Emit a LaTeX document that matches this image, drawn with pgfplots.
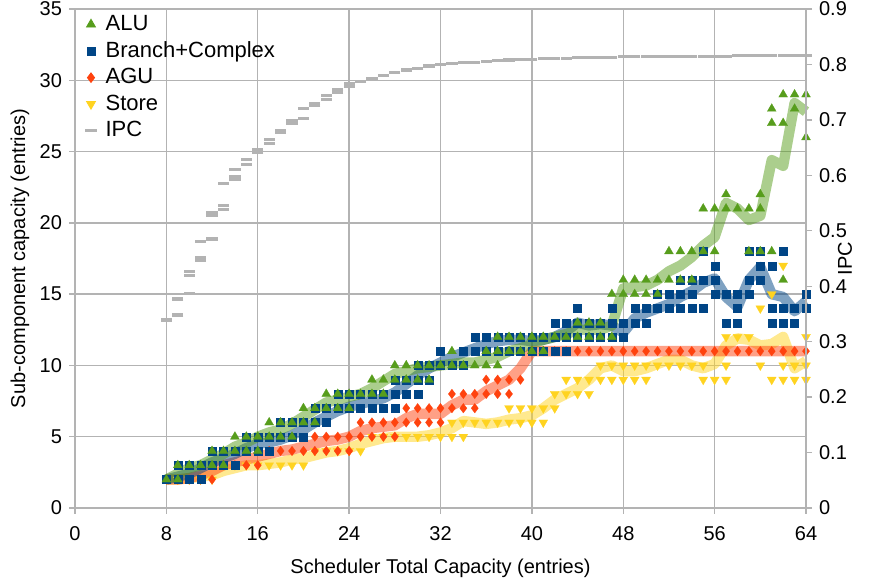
\documentclass[border=0pt]{standalone}
\usepackage{pgfplots}
\pgfplotsset{compat=1.18}
\usepackage{pgfplotstable}
\usepackage{fontspec}
\setmainfont{Liberation Sans}
\definecolor{alu}{HTML}{579D1C}
\definecolor{br}{HTML}{004586}
\definecolor{agu}{HTML}{FF420E}
\definecolor{st}{HTML}{FFD320}
\definecolor{ipc}{HTML}{B3B3B3}
\definecolor{gridc}{HTML}{B3B3B3}

\pgfplotstableread{
x y
8 2
9 2
9 3
10 3
11 3
12 3
12 4
13 3
13 4
14 4
14 5
15 4
15 5
16 4
16 5
17 5
17 6
18 5
18 6
19 5
19 6
20 6
20 7
21 6
21 7
22 7
22 8
23 7
23 8
24 7
24 8
25 8
26 8
26 9
27 8
27 9
28 9
28 10
29 9
29 10
30 9
30 10
31 9
31 10
32 10
33 10
33 11
34 10
35 10
36 10
36 11
37 10
37 11
37 12
38 11
38 12
39 11
39 12
40 11
40 12
41 11
41 12
42 12
43 12
44 12
44 13
45 12
45 13
46 12
46 13
47 12
47 15
48 15
48 16
49 15
49 16
50 15
50 16
51 15
51 16
52 16
52 18
53 16
53 18
54 16
54 18
55 18
55 21
56 18
56 21
57 21
57 22
58 21
59 18
59 21
60 18
60 21
60 22
61 18
61 27
61 28
62 16
62 27
62 29
63 28
63 29
64 26
64 29
}\aluPts

\pgfplotstableread{
x y
8 2
9 2
9 3
10 2
10 3
11 2
11 3
12 3
12 4
13 3
13 4
14 3
14 4
15 4
15 5
16 4
16 5
17 4
17 5
18 5
18 6
19 5
19 6
20 5
20 6
21 6
21 7
22 6
22 7
23 7
23 8
24 7
24 8
25 7
25 8
26 7
26 8
27 7
27 8
28 7
28 8
28 9
29 8
29 9
30 8
30 9
30 10
31 9
31 10
32 10
32 11
33 10
34 10
34 11
35 11
35 12
36 11
36 12
37 11
37 12
38 11
38 12
39 11
39 12
40 11
40 12
41 11
41 12
42 11
42 12
42 13
43 11
43 12
43 13
44 12
44 13
44 14
45 12
45 13
46 12
46 13
47 12
47 13
47 14
48 12
48 13
49 13
49 14
50 13
50 14
51 14
51 15
52 14
52 15
53 14
53 15
53 16
54 14
54 15
54 16
55 14
55 16
55 18
56 15
56 16
56 17
57 13
57 15
58 13
58 14
58 15
59 15
59 16
59 18
60 16
60 17
60 18
61 13
61 14
61 17
62 13
62 14
62 18
63 13
63 14
64 14
64 15
}\brPts

\pgfplotstableread{
x y
8 2
9 2
10 2
11 2
12 2
13 3
14 3
15 3
16 3
17 4
18 4
19 4
20 4
21 4
21 5
22 4
22 5
23 4
23 5
24 4
24 5
25 5
25 6
26 5
26 6
27 5
27 6
28 5
28 6
29 6
29 7
30 6
30 7
31 6
31 7
32 6
32 7
33 7
33 8
34 7
34 8
35 7
35 8
36 8
36 9
37 8
37 9
38 8
38 9
39 9
40 11
41 11
42 11
43 11
44 11
45 11
46 11
47 11
48 11
49 11
50 11
51 11
52 11
53 11
54 11
55 11
56 11
57 11
58 11
59 11
60 11
61 11
62 11
63 11
64 11
}\aguPts

\pgfplotstableread{
x y
8 2
9 2
10 2
11 2
12 2
13 3
14 3
15 3
16 3
17 3
18 3
19 3
20 3
21 4
22 4
23 4
24 4
25 4
26 5
27 5
28 5
29 5
30 5
31 5
32 5
33 5
33 6
34 5
34 6
35 6
36 6
37 6
38 6
38 7
39 6
39 7
40 6
40 7
41 6
41 7
42 7
42 8
43 8
43 9
44 8
44 9
45 8
45 9
46 9
46 10
47 9
47 10
48 9
48 10
49 9
49 10
50 9
50 10
51 10
52 10
53 10
54 10
55 9
55 10
56 9
57 9
57 10
57 12
58 12
59 12
60 10
60 14
61 9
61 15
62 9
62 10
62 17
63 9
63 10
64 9
64 10
64 12
}\stPts

\pgfplotstableread{
x a b g s
8 2.0 2.0 2.0 2.0
9 2.4 2.2 2.0 2.0
10 2.8 2.4 2.1 2.1
11 3.0 2.8 2.3 2.2
12 3.4 3.2 2.6 2.3
13 3.8 3.5 3.0 2.6
14 4.3 3.8 3.2 2.8
15 4.6 4.2 3.4 3.0
16 5.0 4.5 3.6 3.0
17 5.3 4.6 3.8 3.1
18 5.5 4.8 4.0 3.2
19 5.9 5.1 4.1 3.4
20 6.4 5.5 4.3 3.5
21 6.9 6.0 4.5 3.7
22 7.4 6.4 4.7 3.9
23 7.6 6.8 4.8 4.0
24 7.8 7.1 5.0 4.2
25 8.0 7.3 5.4 4.5
26 8.4 7.5 5.6 4.7
27 8.9 7.7 5.7 4.9
28 9.4 8.1 5.8 5.0
29 9.6 8.7 6.3 5.0
30 9.8 9.3 6.6 5.0
31 9.9 9.8 6.6 5.1
32 10.0 10.2 6.6 5.3
33 10.1 10.6 7.2 5.6
34 10.2 10.9 7.6 6.1
35 10.2 11.2 7.6 6.0
36 10.4 11.5 8.2 5.9
37 10.6 11.7 8.6 6.0
38 11.0 11.8 9.0 6.2
39 11.2 11.8 9.8 6.3
40 11.5 11.7 11.0 6.5
41 11.8 11.8 11.0 7.0
42 12.0 12.0 11.0 7.6
43 12.2 12.4 11.0 8.0
44 12.5 13.0 11.0 8.4
45 12.5 12.8 11.0 9.0
46 12.5 12.9 11.0 9.8
47 12.8 12.8 11.0 10.0
48 15.4 12.3 11.0 9.6
49 15.5 13.3 11.0 9.6
50 15.6 13.7 11.0 9.8
51 16.0 14.0 11.0 10.1
52 16.6 14.3 11.0 10.4
53 17.0 14.8 11.0 10.4
54 17.6 15.2 11.0 10.0
55 18.4 15.8 11.0 9.8
56 19.0 16.1 11.0 10.1
57 21.4 14.8 11.0 11.4
58 21.0 14.1 11.0 11.9
59 20.2 16.0 11.0 11.8
60 20.5 16.9 11.0 11.4
61 24.4 15.0 11.0 11.5
62 24.0 14.8 11.0 12.0
63 28.4 13.8 11.0 9.8
64 27.8 14.5 11.0 10.3
}\trend

\pgfplotstableread{
x y
8 0.339
9 0.348
9 0.377
10 0.387
10 0.420
10 0.426
11 0.447
11 0.452
11 0.480
12 0.485
12 0.527
12 0.533
13 0.539
13 0.545
13 0.585
14 0.593
14 0.598
14 0.611
15 0.620
15 0.629
16 0.642
16 0.646
17 0.657
17 0.664
18 0.677
18 0.681
19 0.694
19 0.698
20 0.703
20 0.720
21 0.727
21 0.730
22 0.737
22 0.744
23 0.749
23 0.755
24 0.761
24 0.765
25 0.769
26 0.774
27 0.780
28 0.785
29 0.790
30 0.793
31 0.797
32 0.800
33 0.802
34 0.803
35 0.804
36 0.806
37 0.807
38 0.808
39 0.809
40 0.809
41 0.810
42 0.811
43 0.811
44 0.812
45 0.812
46 0.813
47 0.813
48 0.814
49 0.814
50 0.814
51 0.814
52 0.815
53 0.815
54 0.815
55 0.815
56 0.815
57 0.815
58 0.816
59 0.816
60 0.816
61 0.816
62 0.816
63 0.816
64 0.816
}\ipcPts

\begin{document}
\begin{tikzpicture}
\pgfplotsset{
  common/.style={
    scale only axis, width=365.5pt, height=249.5pt,
    xmin=0, xmax=64,
    axis line style={gridc, line width=0.7pt},
    tick style={gridc, line width=0.7pt},
    tick align=outside, major tick length=3pt,
    tick label style={font=\fontsize{10pt}{12pt}\selectfont, text=black},
    label style={font=\fontsize{10pt}{12pt}\selectfont},
    /pgf/number format/assume math mode=true,
    clip=false,
  }
}
\begin{axis}[common,
  ymin=0, ymax=35,
  xtick={0,8,...,64}, ytick={0,5,...,35},
  xtick pos=bottom, ytick pos=left,
  xticklabel style={yshift=-2.5pt},
  grid=major, major grid style={gridc, line width=0.7pt},
  xlabel={Scheduler Total Capacity (entries)},
  ylabel={Sub-component capacity (entries)},
  xlabel style={at={(axis description cs:0.5,0)}, anchor=center, yshift=-30pt},
  ylabel style={at={(axis description cs:0,0.5)}, anchor=center, rotate=0, yshift=27.5pt},
  legend style={at={(axis description cs:0,1)}, anchor=north west, xshift=2pt, draw=none, fill=none,
    font=\fontsize{11pt}{12pt}\selectfont, inner xsep=3pt, inner ysep=1pt, row sep=0pt, column sep=2.5pt},
  legend cell align=left,
  legend image code/.code={\draw[mark repeat=2,mark phase=2,#1] plot coordinates {(0cm,0cm) (0.17cm,0cm) (0.34cm,0cm)};},
]
\addlegendimage{only marks, mark=triangle*, mark size=2.6pt, color=alu}
\addlegendentry{ALU}
\addlegendimage{only marks, mark=square*, mark size=2pt, color=br}
\addlegendentry{Branch+Complex}
\addlegendimage{only marks, mark=diamond*, mark size=2.4pt, color=agu}
\addlegendentry{AGU}
\addlegendimage{only marks, mark=triangle*, mark size=2.6pt, color=st, mark options={rotate=180}}
\addlegendentry{Store}
\addlegendimage{only marks, mark=-, mark size=2.8pt, color=ipc, mark options={line width=1.6pt}}
\addlegendentry{IPC}

\addplot[st, line width=5.2pt, opacity=0.5, line join=round, forget plot] table[x=x, y=s] {\trend};
\addplot[agu, line width=5.2pt, opacity=0.5, line join=round, forget plot] table[x=x, y=g] {\trend};
\addplot[br, line width=5.2pt, opacity=0.5, line join=round, forget plot] table[x=x, y=b] {\trend};
\addplot[alu, line width=5.2pt, opacity=0.5, line join=round, forget plot] table[x=x, y=a] {\trend};

\addplot[only marks, mark=triangle*, mark size=2.6pt, color=st, mark options={rotate=180, line width=0.1pt}, forget plot] table {\stPts};
\addplot[only marks, mark=diamond*, mark size=2.4pt, color=agu, mark options={line width=0.1pt}, forget plot] table {\aguPts};
\addplot[only marks, mark=square*, mark size=2pt, color=br, mark options={line width=0.1pt}, forget plot] table {\brPts};
\addplot[only marks, mark=triangle*, mark size=2.6pt, color=alu, mark options={line width=0.1pt}, forget plot] table {\aluPts};
\end{axis}

\begin{axis}[common,
  ymin=0, ymax=0.9,
  axis x line=none, axis y line*=right,
  ytick={0,0.1,...,0.9},
  yticklabel style={/pgf/number format/fixed, /pgf/number format/precision=1},
  ylabel={IPC},
  ylabel style={at={(axis description cs:1,0.5)}, anchor=center, rotate=0, yshift=-19.5pt},
]
\addplot[only marks, mark=-, mark size=2.8pt, color=ipc, mark options={line width=1.6pt}] table {\ipcPts};
\end{axis}
\pgfresetboundingbox
\path[use as bounding box] (-37.5pt,-37pt) rectangle (400.5pt,254pt);
\end{tikzpicture}
\end{document}
